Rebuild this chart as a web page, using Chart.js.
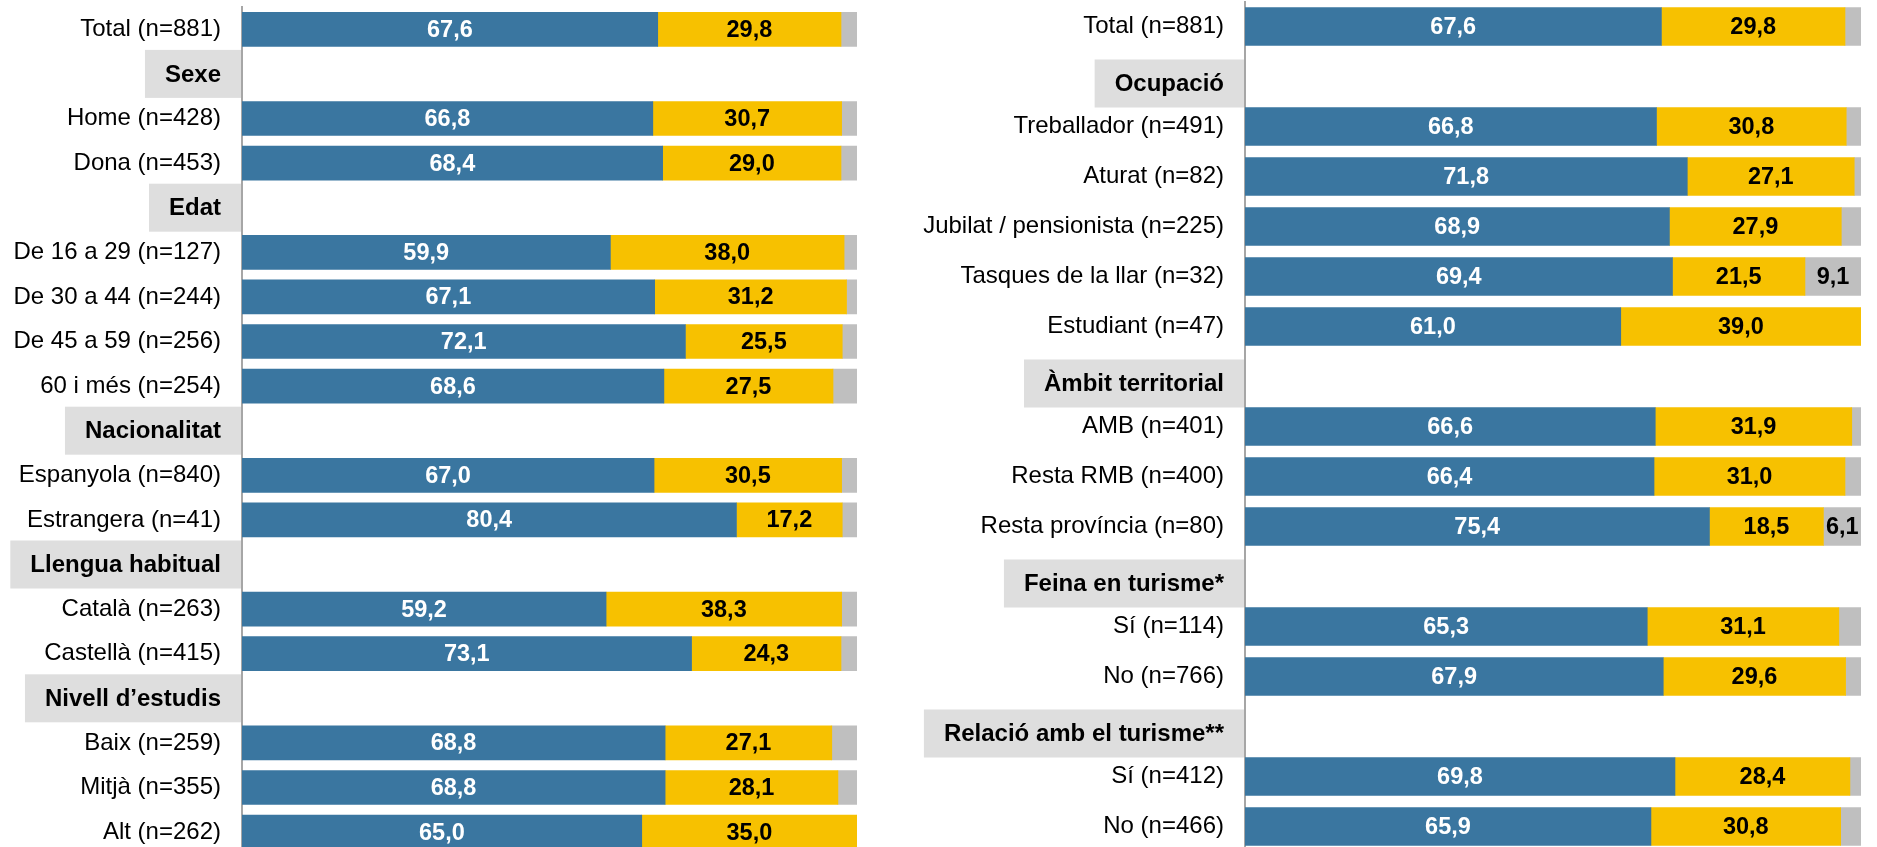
<!DOCTYPE html>
<html>
<head>
<meta charset="utf-8">
<script src="https://cdn.jsdelivr.net/npm/chart.js@4.4.1/dist/chart.umd.min.js"></script>
<style>
  html, body { margin: 0; padding: 0; background: #fff; overflow: hidden; }
  body { width: 1877px; height: 847px; position: relative; }
  canvas { position: absolute; top: 0; }
  #left { left: 0; }
  #right { left: 880px; }
</style>
</head>
<body>
<canvas id="left" width="870" height="860"></canvas>
<canvas id="right" width="997" height="860"></canvas>
<script>
// ---------- DATA ----------
const leftLabels = ['Total (n=881)', 'Sexe', 'Home (n=428)', 'Dona (n=453)', 'Edat',
  'De 16 a 29 (n=127)', 'De 30 a 44 (n=244)', 'De 45 a 59 (n=256)', '60 i més (n=254)',
  'Nacionalitat', 'Espanyola (n=840)', 'Estrangera (n=41)', 'Llengua habitual',
  'Català (n=263)', 'Castellà (n=415)', 'Nivell d’estudis', 'Baix (n=259)', 'Mitjà (n=355)', 'Alt (n=262)'];
const leftHeaders = ['Sexe', 'Edat', 'Nacionalitat', 'Llengua habitual', 'Nivell d’estudis'];
const leftBlue   = [67.6, null, 66.8, 68.4, null, 59.9, 67.1, 72.1, 68.6, null, 67.0, 80.4, null, 59.2, 73.1, null, 68.8, 68.8, 65.0];
const leftYellow = [29.8, null, 30.7, 29.0, null, 38.0, 31.2, 25.5, 27.5, null, 30.5, 17.2, null, 38.3, 24.3, null, 27.1, 28.1, 35.0];
const leftGray   = [2.6, null, 2.5, 2.6, null, 2.1, 1.7, 2.4, 3.9, null, 2.5, 2.4, null, 2.5, 2.6, null, 4.1, 3.1, 0];

const rightLabels = ['Total (n=881)', 'Ocupació', 'Treballador (n=491)', 'Aturat (n=82)',
  'Jubilat / pensionista (n=225)', 'Tasques de la llar (n=32)', 'Estudiant (n=47)', 'Àmbit territorial',
  'AMB (n=401)', 'Resta RMB (n=400)', 'Resta província (n=80)', 'Feina en turisme*',
  'Sí (n=114)', 'No (n=766)', 'Relació amb el turisme**', 'Sí (n=412)', 'No (n=466)'];
const rightHeaders = ['Ocupació', 'Àmbit territorial', 'Feina en turisme*', 'Relació amb el turisme**'];
const rightBlue   = [67.6, null, 66.8, 71.8, 68.9, 69.4, 61.0, null, 66.6, 66.4, 75.4, null, 65.3, 67.9, null, 69.8, 65.9];
const rightYellow = [29.8, null, 30.8, 27.1, 27.9, 21.5, 39.0, null, 31.9, 31.0, 18.5, null, 31.1, 29.6, null, 28.4, 30.8];
const rightGray   = [2.6, null, 2.4, 1.1, 3.2, 9.1, 0, null, 1.5, 2.6, 6.1, null, 3.6, 2.5, null, 1.8, 3.3];

// ---------- STYLE ----------
const FONT = '"Liberation Sans", Arial, sans-serif';
const FS = 24;
const VFS = 23.5;
const BLUE = '#3A76A0', YELLOW = '#F7C100', GRAY = '#BFBFBF', BOXGRAY = '#DEDEDE';
const LABEL_PAD = 21;

const fmt = v => v.toFixed(1).replace('.', ',');

const decorPlugin = {
  id: 'decor',
  beforeDraw(chart, args, opts) {
    const ctx = chart.ctx;
    const y = chart.scales.y;
    const axisX = chart.chartArea.left;
    ctx.save();
    ctx.font = 'bold ' + FS + 'px ' + FONT;
    ctx.textAlign = 'right';
    ctx.textBaseline = 'middle';
    chart.data.labels.forEach((lab, i) => {
      if (!opts.headers.includes(lab)) return;
      const cy = y.getPixelForValue(i) + opts.offset;
      const tw = ctx.measureText(lab).width;
      const textRight = axisX - LABEL_PAD;
      const boxLeft = textRight - tw - 20;
      ctx.fillStyle = BOXGRAY;
      ctx.fillRect(boxLeft, cy - opts.boxH / 2, axisX - boxLeft, opts.boxH);
      ctx.fillStyle = '#000';
      ctx.fillText(lab, textRight, cy + 1);
    });
    ctx.restore();
  },
  afterDatasetsDraw(chart) {
    const ctx = chart.ctx;
    ctx.save();
    ctx.font = 'bold ' + VFS + 'px ' + FONT;
    ctx.textAlign = 'center';
    ctx.textBaseline = 'middle';
    chart.data.datasets.forEach((ds, di) => {
      const meta = chart.getDatasetMeta(di);
      meta.data.forEach((bar, i) => {
        const v = ds.data[i];
        if (v == null || v === 0) return;
        if (di === 2 && v < 5) return;
        const cx = (bar.x + bar.base) / 2;
        ctx.fillStyle = di === 0 ? '#FFFFFF' : '#000000';
        ctx.fillText(fmt(v), cx, bar.y + 1);
      });
    });
    ctx.restore();
  }
};

function makeChart(id, labels, headers, blue, yellow, gray, cfg) {
  return new Chart(document.getElementById(id), {
    type: 'bar',
    data: {
      labels: labels,
      datasets: [
        { data: blue, backgroundColor: BLUE },
        { data: yellow, backgroundColor: YELLOW },
        { data: gray, backgroundColor: GRAY }
      ]
    },
    options: {
      indexAxis: 'y',
      responsive: false,
      animation: false,
      events: [],
      barThickness: cfg.barThickness,
      layout: { padding: { left: 0, right: cfg.padRight, top: cfg.padTop, bottom: cfg.padBottom } },
      plugins: {
        legend: { display: false },
        tooltip: { enabled: false },
        decor: { headers: headers, offset: cfg.headerOffset, boxH: 48 }
      },
      scales: {
        x: { stacked: true, min: 0, max: 100, display: false },
        y: {
          stacked: true,
          afterFit: s => { s.width = cfg.axisWidth; s.paddingTop = 0; s.paddingBottom = 0; },
          grid: { display: false, drawTicks: false },
          border: { display: true, color: '#A6A6A6', width: 2 },
          ticks: {
            padding: LABEL_PAD,
            color: '#000',
            autoSkip: false,
            font: { family: FONT, size: FS },
            callback: function (v, i) {
              const l = labels[i];
              return headers.includes(l) ? '' : l;
            }
          }
        }
      }
    },
    plugins: [decorPlugin]
  });
}

makeChart('left', leftLabels, leftHeaders, leftBlue, leftYellow, leftGray,
  { axisWidth: 242, padRight: 13, padTop: 7, padBottom: 5.6, barThickness: 34, headerOffset: 0 });
makeChart('right', rightLabels, rightHeaders, rightBlue, rightYellow, rightGray,
  { axisWidth: 365, padRight: 16, padTop: 1.5, padBottom: 8.5, barThickness: 38, headerOffset: 7 });
</script>
</body>
</html>
